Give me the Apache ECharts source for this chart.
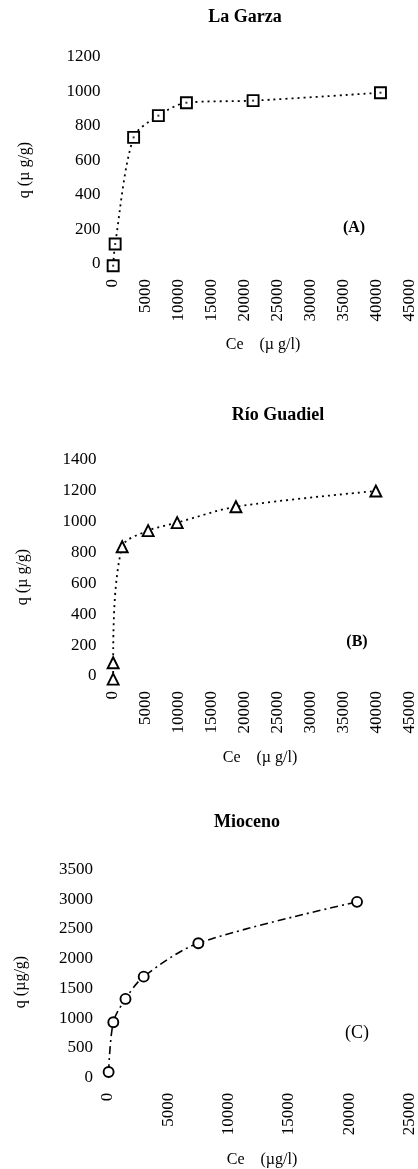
<!DOCTYPE html>
<html>
<head>
<meta charset="utf-8">
<script src="https://cdn.jsdelivr.net/npm/echarts@6/dist/echarts.min.js"></script>
<style>html,body{margin:0;padding:0;background:#fff;}#c{width:418px;height:1169px;}</style>
</head>
<body>
<div id="c"></div>
<script>
// Panel A: La Garza
var ceA = [100, 400, 3200, 6950, 11200, 21300, 40600];
var qA  = [-10, 116, 734, 860, 935, 947, 993];
// Panel B: Río Guadiel
var ceB = [100, 100, 1470, 5400, 9800, 18700, 39900];
var qB  = [-20, 86, 838, 942, 994, 1097, 1199];
// Panel C: Mioceno
var ceC = [50, 440, 1450, 2960, 7490, 20650];
var qC  = [96, 931, 1323, 1697, 2259, 2953];

var titles = ['La Garza', 'Río Guadiel', 'Mioceno'];
var tags = ['(A)', '(B)', '(C)'];
var yNames = ['q (µ g/g)', 'q (µ g/g)', 'q (µg/g)'];
var xNames = ['Ce    (µ g/l)', 'Ce    (µ g/l)', 'Ce    (µg/l)'];
var xMax = [45000, 45000, 25000];
var yMax = [1200, 1400, 3500];
var yStep = [200, 200, 500];

function pairs(xs, ys) { return xs.map(function (x, i) { return [x, ys[i]]; }); }
function plain(v) { return String(v); }

var FONT = '"Liberation Serif", "Times New Roman", serif';
var chart = echarts.init(document.getElementById('c'), null, {renderer: 'canvas'});

var grids = [
  {left: 112.5, right: 5, top: 57, bottom: 905},
  {left: 112.5, right: 5, top: 460, bottom: 493},
  {left: 108, right: 5, top: 869.3, bottom: 91.3}
];
var yLabelMargin = [12, 16, 15];

var xAxes = [], yAxes = [];
for (var i = 0; i < 3; i++) {
  xAxes.push({
    type: 'value', gridIndex: i, min: 0, max: xMax[i], interval: 5000,
    axisLine: {show: false}, axisTick: {show: false}, splitLine: {show: false},
    axisLabel: {rotate: 90, margin: 15, color: '#000', fontFamily: FONT, fontSize: 17,
      formatter: plain, showMinLabel: true, showMaxLabel: true}
  });
  yAxes.push({
    type: 'value', gridIndex: i, min: 0, max: yMax[i], interval: yStep[i],
    axisLine: {show: false}, axisTick: {show: false}, splitLine: {show: false},
    axisLabel: {margin: yLabelMargin[i], color: '#000', fontFamily: FONT, fontSize: 17,
      formatter: plain, showMinLabel: true, showMaxLabel: true}
  });
}

var lineStyles = [
  {color: '#000', width: 1.8, type: [2, 4]},
  {color: '#000', width: 1.8, type: [2, 4]},
  {color: '#000', width: 1.6, type: [8, 4, 2, 4]}
];
var symbols = ['rect', 'triangle', 'circle'];
var symSizes = [11, 11, 10];
var datas = [pairs(ceA, qA), pairs(ceB, qB), pairs(ceC, qC)];

var series = [];
for (var j = 0; j < 3; j++) {
  series.push({
    type: 'line', xAxisIndex: j, yAxisIndex: j, data: datas[j],
    smooth: 0.3, clip: false,
    symbol: symbols[j], symbolSize: symSizes[j], showAllSymbol: true,
    lineStyle: lineStyles[j],
    itemStyle: {color: '#fff', borderColor: '#000', borderWidth: 1.9},
    silent: true, animation: false, z: 2
  });
}
// centre dots inside the La Garza squares
series.push({
  type: 'scatter', xAxisIndex: 0, yAxisIndex: 0, data: datas[0],
  symbol: 'rect', symbolSize: 2, itemStyle: {color: '#000'}, clip: false,
  silent: true, animation: false, z: 3
});

var titleX = [245, 278, 247], titleY = [17, 415, 822];
var tagX = [354, 357, 357], tagY = [228, 642, 1033];
var yNameX = [25, 23, 21], yNameY = [170, 577, 982];
var xNameX = [263, 260, 262], xNameY = [345, 758, 1160];

var graphics = [];
for (var k = 0; k < 3; k++) {
  graphics.push({type: 'text', x: titleX[k], y: titleY[k],
    style: {text: titles[k], font: 'bold 18px ' + FONT, fill: '#000', textAlign: 'center', textVerticalAlign: 'middle'}});
  graphics.push({type: 'text', x: tagX[k], y: tagY[k],
    style: {text: tags[k], font: (k < 2 ? 'bold 16px ' : '18px ') + FONT, fill: '#000', textAlign: 'center', textVerticalAlign: 'middle'}});
  graphics.push({type: 'text', x: yNameX[k], y: yNameY[k], rotation: Math.PI / 2,
    style: {text: yNames[k], font: '16px ' + FONT, fill: '#000', textAlign: 'center', textVerticalAlign: 'middle'}});
  graphics.push({type: 'text', x: xNameX[k], y: xNameY[k],
    style: {text: xNames[k], font: '16px ' + FONT, fill: '#000', textAlign: 'center', textVerticalAlign: 'middle'}});
}

chart.setOption({
  animation: false,
  backgroundColor: '#fff',
  grid: grids,
  xAxis: xAxes,
  yAxis: yAxes,
  series: series,
  graphic: graphics
});
</script>
</body>
</html>
